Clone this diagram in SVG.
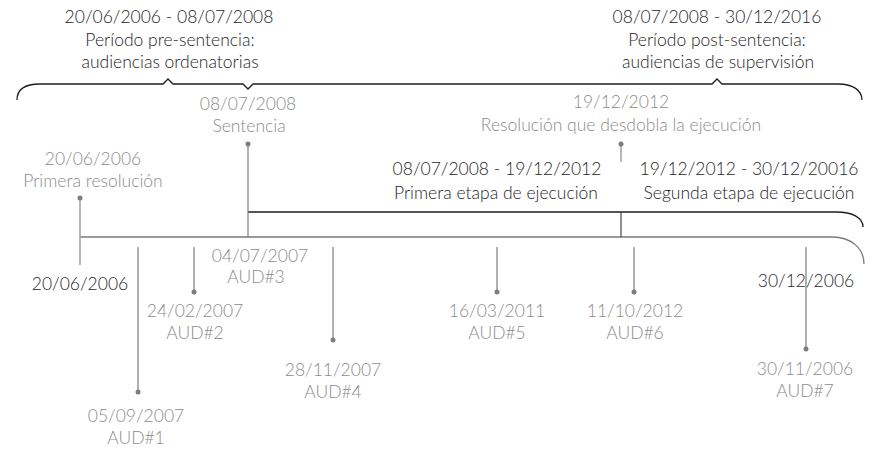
<svg xmlns="http://www.w3.org/2000/svg" width="872" height="462" viewBox="0 0 872 462">
<style>
text{font-family:Lato,"Open Sans","Liberation Sans",sans-serif;font-size:17.5px;font-weight:300;text-anchor:middle}
.d{fill:#1e1e1e}
.g{fill:#8c8c8c}
.brace{fill:none;stroke:#1e1e1e;stroke-width:1.3}
.exe{fill:none;stroke:#1e1e1e;stroke-width:1.3}
.main{fill:none;stroke:#7a7a7a;stroke-width:1.3}
.stem{stroke:#7d7d7d;stroke-width:1.2}
.lstem{stroke:#a6a6a6;stroke-width:1.6}
.div{stroke:#444;stroke-width:1.2}
.dot{fill:#7d7d7d}
</style>
<rect width="872" height="462" fill="#fff"/>
<g id="connectors">
<path class="brace" d="M17,100 C17,90 24,84 40,84 L163,84 L168,79 L173,84 L243,84 L248,89 L253,84 L712,84 L717,79 L722,84 L838,84 C854,84 862,91 862,100"/>
<path class="exe" d="M248,212 L836,212 C853,212 863,218 863,227"/>
<path class="main" d="M80,237 L832,237 C852,237 864,249 864,264"/>
<line class="div" x1="621" y1="212" x2="621" y2="237"/>
<line class="lstem" x1="80" y1="198" x2="80" y2="265"/>
<line class="stem" x1="248" y1="144" x2="248" y2="237"/>
<line class="lstem" x1="621" y1="144" x2="621" y2="162"/>
<line class="stem" x1="138" y1="247" x2="138" y2="392"/>
<line class="stem" x1="194" y1="247" x2="194" y2="292"/>
<line class="stem" x1="333" y1="247" x2="333" y2="340"/>
<line class="stem" x1="497" y1="247" x2="497" y2="292"/>
<line class="stem" x1="634" y1="247" x2="634" y2="292"/>
<line class="stem" x1="806" y1="247" x2="806" y2="349"/>
<circle class="dot" cx="80" cy="198" r="2.5"/>
<circle class="dot" cx="248" cy="144" r="2.5"/>
<circle class="dot" cx="621" cy="144" r="2.5"/>
<circle class="dot" cx="138" cy="392" r="2.5"/>
<circle class="dot" cx="194" cy="292" r="2.5"/>
<circle class="dot" cx="333" cy="340" r="2.5"/>
<circle class="dot" cx="497" cy="292" r="2.5"/>
<circle class="dot" cx="634" cy="292" r="2.5"/>
<circle class="dot" cx="806" cy="349" r="2.5"/>
</g>
<g id="pre-sentencia">
<text class="d" x="169" y="23">20/06/2006 - 08/07/2008</text>
<text class="d" x="170" y="46">Período pre-sentencia:</text>
<text class="d" x="170" y="68">audiencias ordenatorias</text>
</g>
<g id="post-sentencia">
<text class="d" x="717" y="23">08/07/2008 - 30/12/2016</text>
<text class="d" x="717" y="46">Período post-sentencia:</text>
<text class="d" x="718" y="68">audiencias de supervisión</text>
</g>
<g id="sentencia">
<text class="g" x="248" y="110">08/07/2008</text>
<text class="g" x="249" y="132">Sentencia</text>
</g>
<g id="primera-resolucion">
<text class="g" x="93" y="165">20/06/2006</text>
<text class="g" x="93" y="187">Primera resolución</text>
</g>
<g id="resolucion-desdobla">
<text class="g" x="621" y="108">19/12/2012</text>
<text class="g" x="621" y="131">Resolución que desdobla la ejecución</text>
</g>
<g id="primera-etapa">
<text class="d" x="497" y="175">08/07/2008 - 19/12/2012</text>
<text class="d" x="496" y="199">Primera etapa de ejecución</text>
</g>
<g id="segunda-etapa">
<text class="d" x="749" y="175">19/12/2012 - 30/12/20016</text>
<text class="d" x="749" y="199">Segunda etapa de ejecución</text>
</g>
<g id="inicio">
<text class="d" x="80" y="290">20/06/2006</text>
</g>
<g id="fin">
<text class="d" x="806" y="287">30/12/2006</text>
</g>
<g id="aud1">
<text class="g" x="136" y="422">05/09/2007</text>
<text class="g" x="136" y="444">AUD#1</text>
</g>
<g id="aud2">
<text class="g" x="195" y="317">24/02/2007</text>
<text class="g" x="195" y="339">AUD#2</text>
</g>
<g id="aud3">
<text class="g" x="260" y="262">04/07/2007</text>
<text class="g" x="256" y="283">AUD#3</text>
</g>
<g id="aud4">
<text class="g" x="333" y="376">28/11/2007</text>
<text class="g" x="333" y="398">AUD#4</text>
</g>
<g id="aud5">
<text class="g" x="497" y="317">16/03/2011</text>
<text class="g" x="497" y="339">AUD#5</text>
</g>
<g id="aud6">
<text class="g" x="635" y="317">11/10/2012</text>
<text class="g" x="635" y="339">AUD#6</text>
</g>
<g id="aud7">
<text class="g" x="805" y="375">30/11/2006</text>
<text class="g" x="805" y="397">AUD#7</text>
</g>
</svg>
